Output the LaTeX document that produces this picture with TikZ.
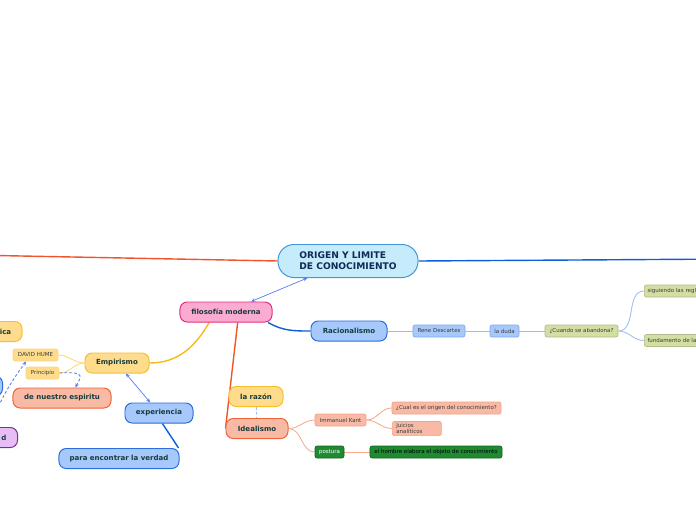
\documentclass[tikz,border=0pt]{standalone}
\usepackage{fontspec}
\setmainfont{DejaVu Sans}
\usepackage{tikz}
\usetikzlibrary{arrows.meta, positioning, backgrounds}
\definecolor{centerfill}{HTML}{C6EBFB}
\definecolor{centeredge}{HTML}{3F97D8}
\definecolor{centertext}{HTML}{102A55}
\definecolor{pinkfill}{HTML}{FBAAD0}
\definecolor{pinkedge}{HTML}{E3307E}
\definecolor{bluefill}{HTML}{A6C8FA}
\definecolor{blueedge}{HTML}{2A6FDB}
\definecolor{yellowfill}{HTML}{FEDC8C}
\definecolor{yellowedge}{HTML}{F7BE31}
\definecolor{salmonfill}{HTML}{F8BAA5}
\definecolor{salmonedge}{HTML}{F0623A}
\definecolor{purplefill}{HTML}{E6BDF6}
\definecolor{purpleedge}{HTML}{7B2F8E}
\definecolor{olivefill}{HTML}{D3DEA3}
\definecolor{oliveedge}{HTML}{7F8F3F}
\definecolor{dkgreenfill}{HTML}{1F8A32}
\definecolor{dkgreenedge}{HTML}{13661F}
\definecolor{topictext}{HTML}{173B3B}
\definecolor{subtext}{HTML}{3A3A3A}
\definecolor{redline}{HTML}{F0552A}
\definecolor{blueline}{HTML}{0D5ED8}
\definecolor{yellowline}{HTML}{F9B81C}
\definecolor{arrowblue}{HTML}{5A7BF0}
\definecolor{lightblue}{HTML}{9DBEF2}
\definecolor{lightyellow}{HTML}{FBD77F}
\definecolor{lightsalmon}{HTML}{F7A98F}
\tikzset{
  centertopic/.style={draw=centeredge, fill=centerfill, line width=0.7pt,
                      rounded corners=0.4cm, minimum width=3.5cm,
                      minimum height=0.825cm, align=left, text=centertext,
                      font=\fontsize{6.5}{8}\selectfont\bfseries},
  topic/.style={draw=#1edge, fill=#1fill, line width=0.7pt,
                rounded corners=0.18cm, minimum height=0.5cm,
                text=topictext, font=\fontsize{5}{6}\selectfont\bfseries},
  subtopic/.style={draw=#1edge!60, fill=#1fill, line width=0.5pt,
                   rounded corners=1.5pt, minimum height=0.3cm,
                   inner xsep=0.08cm, inner ysep=0.04cm, text=subtext,
                   font=\fontsize{3.9}{4.8}\selectfont},
  branch/.style={draw=#1, line width=1pt},
  link/.style={draw=#1, line width=0.6pt},
  darrow/.style={{Stealth[length=3pt,width=2.6pt]}-{Stealth[length=3pt,width=2.6pt]},
                 draw=arrowblue, line width=0.5pt},
  dasharrow/.style={-{Stealth[length=3pt,width=2.6pt]}, dashed,
                    dash pattern=on 2pt off 1.5pt, draw=arrowblue, line width=0.6pt},
  dashlink/.style={dashed, dash pattern=on 2pt off 1.5pt, draw=lightblue,
                   line width=0.6pt},
}
\begin{document}
\begin{tikzpicture}[x=0.025cm, y=0.025cm]
  \useasboundingbox (0,0) rectangle (696,-520);

  % Central topic
  \node[centertopic] (origen) at (348,-261) {ORIGEN Y LIMITE\\DE CONOCIMIENTO};
  \coordinate (offwest) at (-30,-255);
  \coordinate (offeast) at (730,-259);

  % Main topics
  \node[topic=pink, minimum width=2.3cm] (filo) at (226,-312) {filosofía moderna};
  \node[topic=blue, minimum width=1.9cm] (racio) at (349,-331) {Racionalismo};
  \node[topic=yellow, minimum width=1.6cm] (empir) at (117,-363) {Empirismo};
  \node[topic=yellow, minimum width=1.35cm] (razon) at (256,-396.5) {la razón};
  \node[topic=salmon, minimum width=1.55cm] (ideal) at (257,-428.5) {Idealismo};
  \node[topic=blue, minimum width=1.7cm] (exper) at (159,-413) {experiencia};
  \node[topic=blue, minimum width=3cm] (verdad) at (119,-458.5) {para encontrar la verdad};
  \node[topic=salmon, minimum width=2.45cm] (espir) at (62,-398) {de nuestro espiritu};

  % Topics cut by the left edge
  \node[topic=yellow, text width=1.6cm, align=right, inner xsep=0.27cm,
        anchor=east] (lica) at (22.5,-331.5) {ica};
  \node[topic=blue, minimum width=2cm, anchor=east] (lblue) at (3,-386) {};
  \node[topic=purple, text width=1.5cm, align=right, inner xsep=0.28cm,
        anchor=east] (lpurp) at (18,-437.5) {d};
  \coordinate (offsw) at (-8,-420);

  % Subtopics
  \node[subtopic=blue, minimum width=1.3cm] (rene) at (439,-331) {Rene Descartes};
  \node[subtopic=blue, minimum width=0.725cm] (duda) at (504.5,-331) {la duda};
  \node[subtopic=olive, minimum width=1.825cm] (cuando) at (581.5,-331) {¿Cuando se abandona?};
  \node[subtopic=olive, text width=2cm, align=left, anchor=west] (reglas) at (644,-291)
    {siguiendo las regl};
  \node[subtopic=olive, text width=2cm, align=left, anchor=west] (fundam) at (644,-340.5)
    {fundamento de la};
  \node[subtopic=yellow, minimum width=1.125cm] (hume) at (35.5,-355) {DAVID HUME};
  \node[subtopic=yellow, minimum width=0.825cm] (princ) at (42.5,-373) {Principio};
  \node[subtopic=salmon, minimum width=1.275cm] (kant) at (340.5,-420) {Immanuel Kant};
  \node[subtopic=salmon, minimum width=2.725cm] (cual) at (446.5,-408)
    {¿Cual es el origen del conocimiento?};
  \node[subtopic=salmon, text width=1.025cm, align=left, inner xsep=0.1cm,
        anchor=west] (juicios) at (392,-428.5) {Juicios\\analíticos};
  \node[subtopic=dkgreen, draw=dkgreenedge, text=white, minimum width=0.725cm]
    (postura) at (329.5,-452) {postura};
  \node[subtopic=dkgreen, draw=dkgreenedge, text=black, minimum width=3.3cm]
    (hombre) at (436,-452) {el hombre elabora el objeto de conocimiento};

  % Connectors
  \begin{scope}[on background layer]
    \draw[branch=redline] (origen.west) -- (offwest);
    \draw[branch=blueline] (origen.east) -- (offeast);
    \draw[darrow] (origen) -- (filo);
    \draw[branch=blueline] (filo.-14) to[out=-30,in=180] (racio.west);
    \draw[branch=yellowline] (filo.212) to[out=-120,in=0] (empir.east);
    \draw[branch=redline] (filo.-42) -- (ideal.west);
    \draw[darrow] (empir) -- (exper);
    \draw[branch=blueline] (exper.-72) -- (verdad.10);
    \draw[dashlink] (razon) -- (ideal);

    \draw[link=lightblue] (racio.east) -- (rene.west);
    \draw[link=lightblue] (rene.east) -- (duda.west);
    \draw[link=lightblue] (duda.east) -- (cuando.west);
    \draw[link=lightblue] (cuando.east) to[out=0,in=180] (reglas.west);
    \draw[link=lightblue] (cuando.east) to[out=0,in=180] (fundam.west);
    \draw[link=lightyellow] (empir.west) to[out=180,in=0] (hume.east);
    \draw[link=lightyellow] (empir.west) to[out=180,in=0] (princ.east);
    \draw[link=lightsalmon] (ideal.east) to[out=0,in=180] (kant.west);
    \draw[link=lightsalmon] (ideal.east) to[out=0,in=180] (postura.west);
    \draw[link=lightsalmon] (kant.east) to[out=0,in=180] (cual.west);
    \draw[link=lightsalmon] (kant.east) to[out=0,in=180] (juicios.west);
    \draw[link=lightsalmon] (postura.east) -- (hombre.west);

    \draw[dasharrow] (princ.east) .. controls (88,-371) and (80,-378) .. (espir.38);
    \draw[dasharrow] (offsw) to[bend left=6] (hume.214);
  \end{scope}
\end{tikzpicture}
\end{document}
